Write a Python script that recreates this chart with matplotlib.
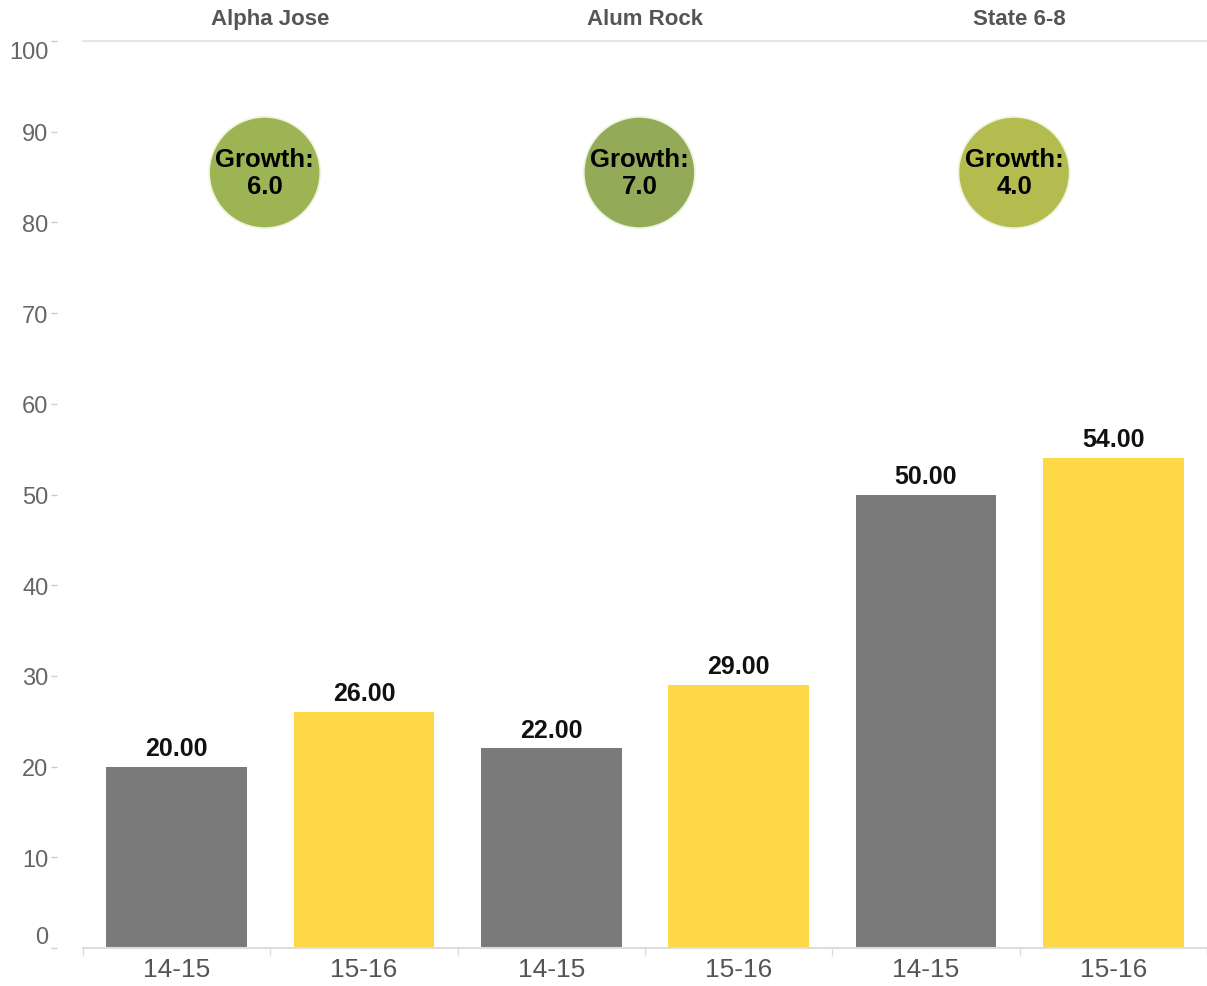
import matplotlib.pyplot as plt
import numpy as np

# data
groups = ["Alpha Jose", "Alum Rock", "State 6-8"]
years = ["14-15", "15-16"]
vals_1415 = [20, 22, 50]
vals_1516 = [26, 29, 54]
growth = [6.0, 7.0, 4.0]
growth_y = [85.5, 85.5, 85.5]

plt.rcParams['font.family'] = ['Liberation Sans', 'DejaVu Sans']

fig = plt.figure(figsize=(12.07, 9.87), dpi=100)
ax = fig.add_axes([83 / 1207, 38 / 987, 1124 / 1207, 907 / 987])

grey = '#7a7a7a'
yellow = '#fed846'
circle_cols = ['#9db454', '#93aa59', '#b4bc50']

n = len(groups)
x_old = np.arange(n) * 2
x_new = x_old + 1

b1 = ax.bar(x_old, vals_1415, width=0.75, color=grey)
b2 = ax.bar(x_new, vals_1516, width=0.75, color=yellow)
for b in (b1, b2):
    ax.bar_label(b, fmt='%.2f', padding=5, fontsize=18, fontweight='bold', color='#111111')

# growth bubbles (sit a touch left of the panel centre)
xc = x_old + 0.5
xb = xc - 0.03
ax.scatter(xb, growth_y, s=6400, c=circle_cols, edgecolors='#eef3dc', linewidths=1.2, zorder=3)
for x, y, g in zip(xb, growth_y, growth):
    ax.text(x, y, "Growth:\n%.1f" % g, ha='center', va='center', fontsize=18.5,
            fontweight='bold', color='black', linespacing=1.2, zorder=4)

# group headers
for x, name in zip(xc, groups):
    ax.text(x, 1.0 + 23 / 907, name, transform=ax.get_xaxis_transform(), ha='center',
            va='center', fontsize=16, fontweight='bold', color='#555555')

ax.set_xlim(-0.5, 2 * n - 0.5)
ax.set_ylim(0, 100)

# x axis
ax.set_xticks(np.arange(2 * n))
ax.set_xticklabels(years * n, fontsize=19, color='#555555')
ax.set_xticks(np.arange(-0.5, 2 * n), minor=True)
ax.tick_params(axis='x', which='major', length=0, pad=6.5)
ax.tick_params(axis='x', which='minor', length=6, color='#dddddd', width=1)

# y axis
ax.set_yticks(np.arange(0, 101, 10))
ax.tick_params(axis='y', length=4, color='#cccccc', width=1, labelsize=17,
               labelcolor='#666666', pad=2)
ax.spines['left'].set_position(('outward', 19))
ax.spines['left'].set_visible(False)
labels = ax.get_yticklabels()
labels[0].set_va('bottom')
labels[-1].set_va('top')

ax.spines['right'].set_visible(False)
ax.spines['top'].set_color('#e6e6e6')
ax.spines['top'].set_linewidth(1.5)
ax.spines['bottom'].set_color('#dddddd')
ax.spines['bottom'].set_linewidth(1.5)

fig.savefig('out.png', dpi=100)
